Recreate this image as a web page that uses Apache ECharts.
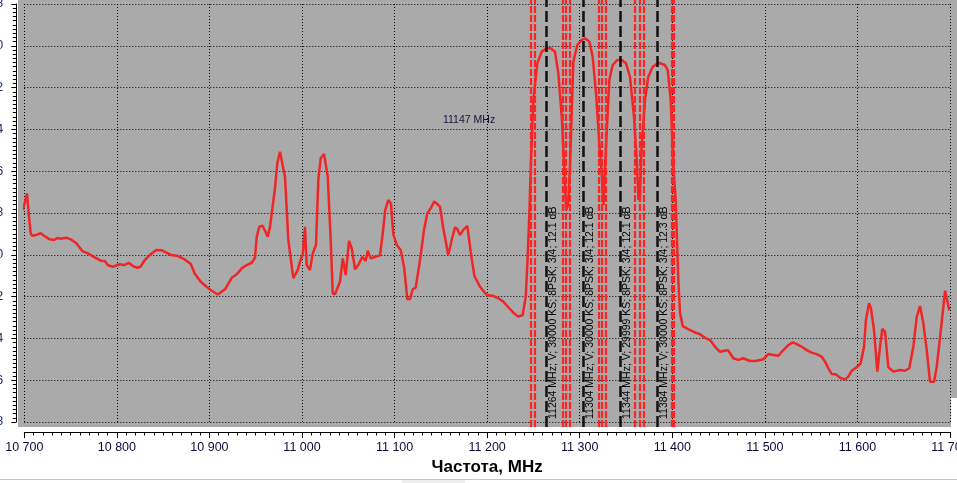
<!DOCTYPE html>
<html>
<head>
<meta charset="utf-8">
<script src="https://cdn.jsdelivr.net/npm/echarts@6/dist/echarts.min.js"></script>
<style>
html,body{margin:0;padding:0;background:#fff;}
#chart{width:957px;height:483px;}
</style>
</head>
<body>
<div id="chart"></div>
<script>
// ---- data ----
const freqMHz = [10698.6,10702.9,10705.1,10706.9,10708.3,10713.0,10717.7,10721.3,10727.4,10732.1,10735.6,10739.3,10745.4,10750.1,10756.2,10762.7,10768.8,10776.1,10782.5,10786.9,10790.4,10795.8,10803.1,10807.7,10813.1,10817.4,10822.1,10825.7,10830.1,10835.5,10842.6,10848.0,10853.4,10858.8,10866.0,10873.3,10879.8,10884.1,10890.6,10896.6,10902.4,10909.0,10916.8,10924.1,10929.5,10934.9,10940.3,10945.7,10949.2,10951.1,10953.9,10957.5,10963.0,10965.4,10970.8,10973.3,10976.2,10978.1,10981.6,10985.2,10990.6,10995.4,10998.9,11000.8,11003.2,11005.1,11008.6,11011.6,11015.1,11017.6,11020.2,11023.8,11027.8,11031.0,11033.2,11035.6,11041.0,11044.0,11047.2,11050.8,11053.7,11057.3,11060.8,11065.1,11068.8,11071.0,11074.2,11084.3,11087.2,11089.9,11093.2,11096.1,11098.6,11102.3,11106.6,11110.2,11113.8,11116.7,11119.6,11122.8,11127.5,11131.8,11135.4,11139.0,11142.9,11149.1,11152.6,11158.0,11161.7,11165.3,11167.8,11170.7,11174.3,11178.6,11182.2,11186.2,11192.3,11199.5,11206.7,11212.1,11217.5,11222.9,11228.3,11233.7,11238.4,11241.7,11243.8,11245.6,11247.4,11249.9,11254.2,11259.0,11264.4,11268.7,11273.3,11276.9,11280.6,11283.0,11285.2,11287.4,11289.5,11293.1,11297.4,11302.2,11305.7,11310.4,11314.0,11317.6,11321.2,11323.8,11325.7,11327.3,11332.0,11335.6,11340.6,11345.4,11350.0,11354.3,11358.6,11361.6,11363.5,11365.1,11366.9,11370.5,11374.1,11378.9,11384.9,11392.1,11395.1,11398.3,11401.2,11403.7,11406.5,11408.4,11411.3,11417.3,11422.7,11429.9,11436.4,11440.8,11446.2,11451.6,11455.1,11459.9,11462.4,11465.9,11471.3,11476.7,11484.0,11491.2,11498.3,11503.7,11509.1,11514.5,11518.2,11525.3,11530.1,11534.4,11539.8,11545.2,11550.6,11556.0,11561.4,11565.0,11568.6,11572.2,11576.8,11581.2,11586.6,11590.2,11593.8,11599.2,11603.5,11607.1,11609.2,11612.5,11614.6,11617.9,11621.5,11624.4,11626.9,11629.8,11633.4,11638.8,11646.0,11651.4,11656.0,11660.4,11664.1,11667.6,11671.2,11674.9,11678.4,11682.8,11685.7,11690.1,11694.7,11696.5,11699.3];
const levelDb = [-47.86,-47.06,-48.18,-48.97,-49.09,-49.05,-48.97,-49.09,-49.26,-49.29,-49.20,-49.23,-49.18,-49.26,-49.45,-49.82,-49.93,-50.12,-50.28,-50.30,-50.50,-50.57,-50.45,-50.49,-50.39,-50.54,-50.62,-50.57,-50.25,-50.01,-49.77,-49.78,-49.90,-50.01,-50.06,-50.22,-50.44,-50.89,-51.29,-51.52,-51.72,-51.90,-51.65,-51.10,-50.93,-50.65,-50.49,-50.38,-50.14,-49.13,-48.66,-48.61,-49.13,-48.66,-46.82,-45.62,-45.07,-45.14,-46.26,-49.29,-51.12,-50.73,-50.17,-50.01,-48.66,-50.49,-50.73,-49.93,-49.53,-46.42,-45.38,-45.18,-46.26,-49.29,-51.84,-51.89,-51.29,-50.17,-50.97,-49.33,-49.69,-50.69,-50.49,-50.09,-50.30,-49.80,-50.17,-50.02,-48.97,-47.86,-47.38,-47.55,-49.01,-49.53,-49.77,-50.57,-52.13,-52.12,-51.65,-51.57,-50.25,-48.81,-48.01,-47.78,-47.44,-47.70,-48.73,-50.01,-49.29,-48.68,-48.78,-49.05,-48.81,-48.62,-49.85,-51.01,-51.53,-51.92,-51.97,-52.08,-52.24,-52.51,-52.77,-52.96,-52.88,-52.00,-50.09,-48.01,-45.46,-42.59,-40.84,-40.28,-40.12,-40.12,-40.28,-41.32,-43.39,-45.46,-47.86,-47.62,-45.78,-40.76,-39.96,-39.72,-39.64,-39.80,-40.52,-42.27,-44.67,-46.10,-47.62,-45.78,-41.64,-40.92,-40.68,-40.68,-40.84,-41.48,-43.39,-45.46,-47.38,-47.14,-44.83,-42.59,-41.48,-41.00,-40.81,-40.92,-41.16,-42.59,-45.78,-47.38,-51.21,-52.80,-53.41,-53.56,-53.68,-53.80,-54.00,-54.08,-54.40,-54.64,-54.60,-54.56,-54.71,-54.95,-55.03,-54.95,-55.08,-55.07,-55.00,-54.75,-54.79,-54.83,-54.64,-54.32,-54.19,-54.27,-54.40,-54.56,-54.68,-54.75,-54.88,-55.11,-55.43,-55.70,-55.72,-55.88,-55.96,-55.83,-55.55,-55.38,-55.19,-54.40,-53.12,-52.32,-52.56,-53.60,-55.59,-54.40,-53.55,-53.68,-55.38,-55.59,-55.51,-55.55,-55.43,-54.40,-52.96,-52.45,-53.28,-54.56,-56.07,-56.07,-55.35,-53.60,-51.72,-51.77,-52.67];
const channelCenters = [11264, 11304, 11344, 11384];
const channelLabels = [
  '11264 MHz; V; 30000 KS; 8PSK; 3/4; 12.1 dB',
  '11304 MHz; V; 30000 KS; 8PSK; 3/4; 12.1 dB',
  '11344 MHz; V; 29999 KS; 8PSK; 3/4; 12.1 dB',
  '11384 MHz; V; 30000 KS; 8PSK; 3/4; 12.3 dB'
];
const edgeLines = [11247.4, 11251.0, 11281.3, 11284.9, 11289.2, 11320.1, 11323.8, 11328.4, 11359.7, 11364.4, 11368.7, 11399.1, 11401.8];
const cursorLabel = '11147 MHz';
const xName = 'Частота, MHz';

// ---- chart ----
const chart = echarts.init(document.getElementById('chart'), null, {renderer: 'canvas'});
const n = Math.min(freqMHz.length, levelDb.length);
const spectrum = [];
for (let i = 0; i < n; i++) spectrum.push([freqMHz[i], levelDb[i]]);

const fmt = v => String(v).replace(/\B(?=(\d{3})+(?!\d))/g, ' ');
const dotted = {color: '#000', width: 1, type: [1, 2]};
const FONT = '"Liberation Sans", Arial, sans-serif';

chart.setOption({
  animation: false,
  backgroundColor: '#fff',
  grid: [
    {left: 24.3, right: 7, top: 4, bottom: 61, containLabel: false, outerBoundsMode: 'none'},
    {left: 24.3, right: 7, top: 0, bottom: 56, containLabel: false, outerBoundsMode: 'none'}
  ],
  xAxis: [
    {
      type: 'value', gridIndex: 0, min: 10700, max: 11700, interval: 100, offset: 10,
      axisLine: {show: true, lineStyle: {color: '#000', width: 1}},
      axisTick: {show: true, length: 6, lineStyle: {color: '#000'}},
      minorTick: {show: true, splitNumber: 10, length: 3.5, lineStyle: {color: '#000'}},
      splitLine: {show: true, lineStyle: dotted},
      axisLabel: {formatter: fmt, fontSize: 12.5, color: '#0b0b3b', margin: 9, fontFamily: FONT, showMaxLabel: true, showMinLabel: true, hideOverlap: false},
      name: xName, nameLocation: 'middle', nameGap: 27,
      nameTextStyle: {fontSize: 17, fontWeight: 'bold', color: '#000', fontFamily: FONT}
    },
    {type: 'value', gridIndex: 1, min: 10700, max: 11700, show: false}
  ],
  yAxis: [
    {
      type: 'value', gridIndex: 0, min: -58, max: -38, interval: 2, offset: 8,
      axisLine: {show: true, lineStyle: {color: '#000', width: 1}},
      axisTick: {show: true, length: 5, lineStyle: {color: '#000'}},
      minorTick: {show: true, splitNumber: 10, length: 3.5, lineStyle: {color: '#000'}},
      splitLine: {show: true, lineStyle: dotted},
      axisLabel: {fontSize: 12.5, color: '#1a2a6a', margin: 13, fontFamily: FONT}
    },
    {type: 'value', gridIndex: 1, min: 0, max: 1, show: false}
  ],
  series: [
    {
      type: 'line', xAxisIndex: 0, yAxisIndex: 0, data: spectrum,
      showSymbol: false, symbol: 'none', smooth: false, z: 3,
      lineStyle: {color: '#f02626', width: 2.5}
    },
    {
      type: 'line', xAxisIndex: 1, yAxisIndex: 1, data: [], z: 4,
      markLine: {
        silent: true, symbol: ['none', 'none'], animation: false,
        label: {show: false},
        data: edgeLines.map(v => ({xAxis: v, lineStyle: {color: '#ff2424', width: 2.2, type: [7, 2]}}))
          .concat(channelCenters.map(v => ({xAxis: v, lineStyle: {color: '#111', width: 2.5, type: [11, 4]}})))
      }
    }
  ]
});

const els = [
  {type: 'rect', z: -100, silent: true, shape: {x: 18, y: 0, width: 933, height: 427}, style: {fill: '#aaaaaa'}},
  {type: 'rect', z: -100, silent: true, shape: {x: 951, y: 0, width: 6, height: 398}, style: {fill: '#aaaaaa'}},
  {type: 'line', z: -100, silent: true, shape: {x1: 0, y1: 479.5, x2: 957, y2: 479.5}, style: {stroke: '#c4c4c4', lineWidth: 1}},
  {type: 'rect', z: -100, silent: true, shape: {x: 402, y: 480, width: 63, height: 3}, style: {fill: '#eeeeee'}},
  {type: 'text', z: 10, silent: true, x: 443, y: 120,
   style: {text: cursorLabel, font: '10.5px ' + FONT, fill: '#14143c', textAlign: 'left', textVerticalAlign: 'middle', align: 'left', verticalAlign: 'middle'}}
];
channelCenters.forEach((c, i) => {
  const px = chart.convertToPixel({xAxisIndex: 0}, c);
  els.push({
    type: 'text', z: 10, silent: true, x: px + 6.8, y: 419, rotation: Math.PI / 2,
    style: {text: channelLabels[i], font: '10.5px ' + FONT, fill: '#000', textAlign: 'left', textVerticalAlign: 'middle', align: 'left', verticalAlign: 'middle'}
  });
});
chart.setOption({graphic: {elements: els}});
</script>
</body>
</html>
